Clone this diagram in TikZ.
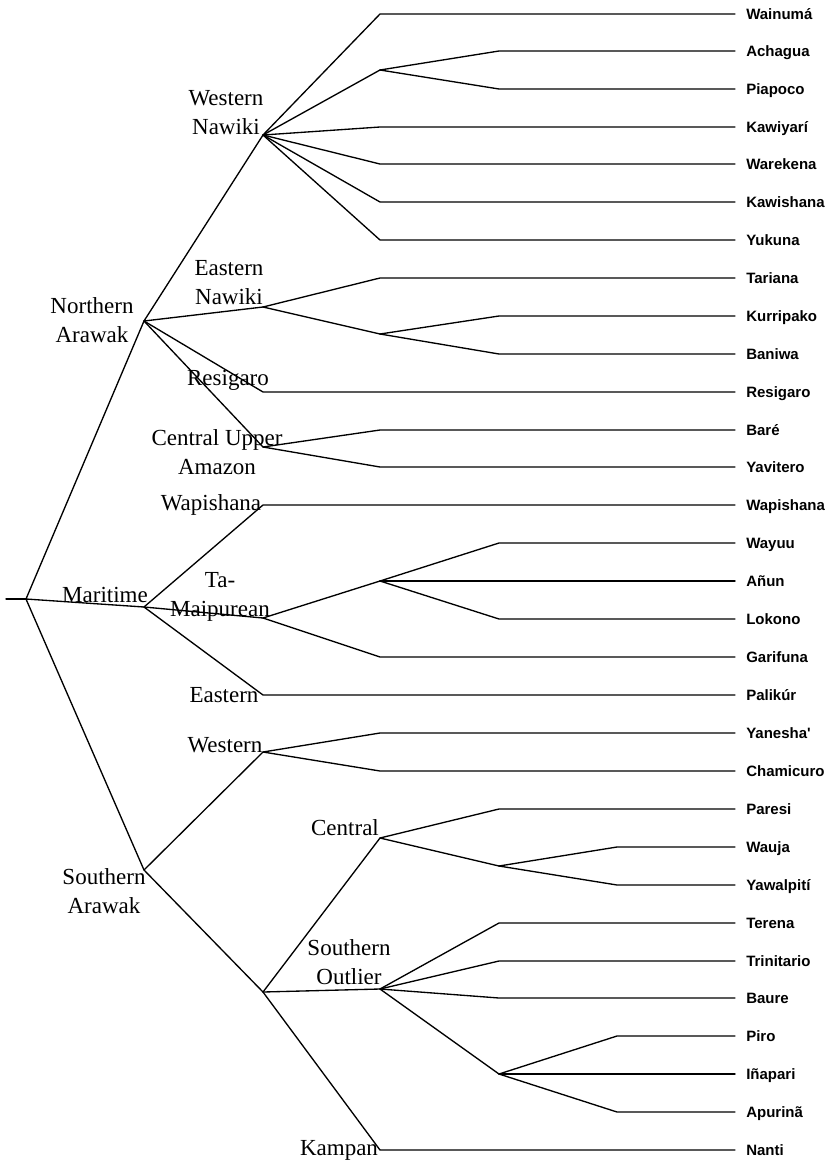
\documentclass[tikz,border=0pt]{standalone}
\usepackage{fontspec}
\setmainfont{Liberation Serif}
\newfontfamily\leaffont{Liberation Sans}
\begin{document}
\begin{tikzpicture}[x=0.75pt,y=-0.75pt,
  branch/.style={line width=1pt, line join=round, line cap=round},
  leaf/.style={font=\leaffont\bfseries\fontsize{11.25}{13}\selectfont, anchor=west,
    inner xsep=8.25pt, inner ysep=0pt, text height=8pt, text depth=0pt},
  grp/.style={font=\fontsize{17.25}{21.75}\selectfont, anchor=base, inner sep=0pt}]
\useasboundingbox (0,0) rectangle (833,1164);
\newcommand\two[2]{\begin{tabular}[t]{@{}c@{}}#1\\#2\end{tabular}}

% internal nodes
\coordinate (stub) at (6,599);
\coordinate (root) at (26,599);
\coordinate (NA) at (144,321);
\coordinate (WN) at (263,135);
\coordinate (AP) at (380,70);
\coordinate (EN) at (263,307);
\coordinate (KB) at (380,334);
\coordinate (CUA) at (263,447);
\coordinate (MA) at (144,607);
\coordinate (TM) at (263,618);
\coordinate (WL) at (380,581);
\coordinate (SA) at (144,870);
\coordinate (WS) at (263,752);
\coordinate (SM) at (263,992);
\coordinate (CE) at (380,838);
\coordinate (WY) at (499,866);
\coordinate (SO) at (380,989);
\coordinate (PI) at (499,1074);

% leaves
\node[leaf] (wainuma) at (735,14) {Wainumá};
\node[leaf] (achagua) at (735,51) {Achagua};
\node[leaf] (piapoco) at (735,89) {Piapoco};
\node[leaf] (kawiyari) at (735,127) {Kawiyarí};
\node[leaf] (warekena) at (735,164) {Warekena};
\node[leaf] (kawishana) at (735,202) {Kawishana};
\node[leaf] (yukuna) at (735,240) {Yukuna};
\node[leaf] (tariana) at (735,278) {Tariana};
\node[leaf] (kurripako) at (735,316) {Kurripako};
\node[leaf] (baniwa) at (735,354) {Baniwa};
\node[leaf] (resigaro) at (735,392) {Resigaro};
\node[leaf] (bare) at (735,430) {Baré};
\node[leaf] (yavitero) at (735,467) {Yavitero};
\node[leaf] (wapishana) at (735,505) {Wapishana};
\node[leaf] (wayuu) at (735,543) {Wayuu};
\node[leaf] (anun) at (735,581) {Añun};
\node[leaf] (lokono) at (735,619) {Lokono};
\node[leaf] (garifuna) at (735,657) {Garifuna};
\node[leaf] (palikur) at (735,695) {Palikúr};
\node[leaf] (yanesha) at (735,733) {Yanesha'};
\node[leaf] (chamicuro) at (735,771) {Chamicuro};
\node[leaf] (paresi) at (735,809) {Paresi};
\node[leaf] (wauja) at (735,847) {Wauja};
\node[leaf] (yawalpiti) at (735,885) {Yawalpití};
\node[leaf] (terena) at (735,923) {Terena};
\node[leaf] (trinitario) at (735,961) {Trinitario};
\node[leaf] (baure) at (735,998) {Baure};
\node[leaf] (piro) at (735,1036) {Piro};
\node[leaf] (inapari) at (735,1074) {Iñapari};
\node[leaf] (apurina) at (735,1112) {Apurinã};
\node[leaf] (nanti) at (735,1150) {Nanti};

% corners
\coordinate (cwai) at (380,14);
\coordinate (cach) at (499,51);
\coordinate (cpia) at (499,89);
\coordinate (ckwy) at (380,127);
\coordinate (cwar) at (380,164);
\coordinate (ckws) at (380,202);
\coordinate (cyuk) at (380,240);
\coordinate (ctar) at (380,278);
\coordinate (ckur) at (499,316);
\coordinate (cban) at (499,354);
\coordinate (cres) at (263,392);
\coordinate (cbar) at (380,430);
\coordinate (cyav) at (380,467);
\coordinate (cwap) at (263,505);
\coordinate (cway) at (499,543);
\coordinate (clok) at (499,619);
\coordinate (cgar) at (380,657);
\coordinate (cpal) at (263,695);
\coordinate (cyan) at (380,733);
\coordinate (ccha) at (380,771);
\coordinate (cpar) at (499,809);
\coordinate (cwau) at (617,847);
\coordinate (cyaw) at (617,885);
\coordinate (cter) at (499,923);
\coordinate (ctri) at (499,961);
\coordinate (cbau) at (499,998);
\coordinate (cpir) at (617,1036);
\coordinate (capu) at (617,1112);
\coordinate (ckam) at (380,1150);

% branches
\draw[branch] (stub) -- (root);
\draw[branch] (root) -- (NA);
\draw[branch] (root) -- (MA);
\draw[branch] (root) -- (SA);
% Northern Arawak
\draw[branch] (NA) -- (WN);
\draw[branch] (WN) -- (cwai) -- (wainuma.west);
\draw[branch] (WN) -- (AP);
\draw[branch] (AP) -- (cach) -- (achagua.west);
\draw[branch] (AP) -- (cpia) -- (piapoco.west);
\draw[branch] (WN) -- (ckwy) -- (kawiyari.west);
\draw[branch] (WN) -- (cwar) -- (warekena.west);
\draw[branch] (WN) -- (ckws) -- (kawishana.west);
\draw[branch] (WN) -- (cyuk) -- (yukuna.west);
\draw[branch] (NA) -- (EN);
\draw[branch] (EN) -- (ctar) -- (tariana.west);
\draw[branch] (EN) -- (KB);
\draw[branch] (KB) -- (ckur) -- (kurripako.west);
\draw[branch] (KB) -- (cban) -- (baniwa.west);
\draw[branch] (NA) -- (cres) -- (resigaro.west);
\draw[branch] (NA) -- (CUA);
\draw[branch] (CUA) -- (cbar) -- (bare.west);
\draw[branch] (CUA) -- (cyav) -- (yavitero.west);
% Maritime
\draw[branch] (MA) -- (cwap) -- (wapishana.west);
\draw[branch] (MA) -- (TM);
\draw[branch] (TM) -- (WL);
\draw[branch] (WL) -- (cway) -- (wayuu.west);
\draw[branch] (WL) -- (anun.west);
\draw[branch] (WL) -- (clok) -- (lokono.west);
\draw[branch] (TM) -- (cgar) -- (garifuna.west);
\draw[branch] (MA) -- (cpal) -- (palikur.west);
% Southern Arawak
\draw[branch] (SA) -- (WS);
\draw[branch] (WS) -- (cyan) -- (yanesha.west);
\draw[branch] (WS) -- (ccha) -- (chamicuro.west);
\draw[branch] (SA) -- (SM);
\draw[branch] (SM) -- (CE);
\draw[branch] (CE) -- (cpar) -- (paresi.west);
\draw[branch] (CE) -- (WY);
\draw[branch] (WY) -- (cwau) -- (wauja.west);
\draw[branch] (WY) -- (cyaw) -- (yawalpiti.west);
\draw[branch] (SM) -- (SO);
\draw[branch] (SO) -- (cter) -- (terena.west);
\draw[branch] (SO) -- (ctri) -- (trinitario.west);
\draw[branch] (SO) -- (cbau) -- (baure.west);
\draw[branch] (SO) -- (PI);
\draw[branch] (PI) -- (cpir) -- (piro.west);
\draw[branch] (PI) -- (inapari.west);
\draw[branch] (PI) -- (capu) -- (apurina.west);
\draw[branch] (SM) -- (ckam) -- (nanti.west);

% group labels
\node[grp] (lNA) at (92,313) {\two{Northern}{Arawak}};
\node[grp] (lWN) at (226,105) {\two{Western}{Nawiki}};
\node[grp] (lEN) at (229,275) {\two{Eastern}{Nawiki}};
\node[grp] (lRE) at (228,385) {Resigaro};
\node[grp] (lCU) at (217,445) {\two{Central Upper}{Amazon}};
\node[grp] (lWA) at (211,510) {Wapishana};
\node[grp] (lMA) at (105,602) {Maritime};
\node[grp] (lTM) at (220,587) {\two{Ta-}{Maipurean}};
\node[grp] (lEA) at (224,702) {Eastern};
\node[grp] (lWE) at (225,752) {Western};
\node[grp] (lSA) at (104,884) {\two{Southern}{Arawak}};
\node[grp] (lCE) at (345,835) {Central};
\node[grp] (lSO) at (349,955) {\two{Southern}{Outlier}};
\node[grp] (lKA) at (339,1155) {Kampan};
\end{tikzpicture}
\end{document}
